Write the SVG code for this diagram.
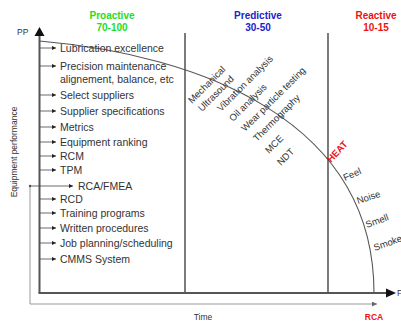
<svg xmlns="http://www.w3.org/2000/svg" width="401" height="323" viewBox="0 0 401 323">
  <defs>
    <style>
      text { font-family: "Liberation Sans", Arial, sans-serif; fill: #333; }
      .head { font-size: 10px; font-weight: bold; text-anchor: middle; }
      .pro { fill: #22dd22; }
      .pred { fill: #2222cc; }
      .react { fill: #ee1111; }
      .item { font-size: 10.5px; }
      .tech { font-size: 9.5px; }
      .sense { font-size: 9.5px; }
      .small { font-size: 8.5px; }
      .axis { stroke: #555; stroke-width: 2; fill: none; }
      .divider { stroke: #444; stroke-width: 1.4; fill: none; }
      .feed { stroke: #444; stroke-width: 0.8; fill: none; }
      .flow { stroke: #999; stroke-width: 1; fill: none; }
      .curve { stroke: #555; stroke-width: 1.1; fill: none; }
    </style>
    <marker id="tip" viewBox="0 0 6 6" refX="6" refY="3" markerWidth="4" markerHeight="4" markerUnits="userSpaceOnUse" orient="auto">
      <path d="M0,0 L6,3 L0,6 Z" fill="#222"/>
    </marker>
    <marker id="tipThin" viewBox="0 0 6 6" refX="6" refY="3" markerWidth="5" markerHeight="5" markerUnits="userSpaceOnUse" orient="auto">
      <path d="M0,0 L6,3 L0,6 Z" fill="#666"/>
    </marker>
  </defs>

  <!-- phase headings -->
  <g id="proactive">
    <text class="head pro" x="112" y="19">Proactive</text>
    <text class="head pro" x="112" y="31">70-100</text>
  </g>
  <g id="predictive">
    <text class="head pred" x="258" y="19">Predictive</text>
    <text class="head pred" x="258" y="31">30-50</text>
  </g>
  <g id="reactive">
    <text class="head react" x="376" y="19">Reactive</text>
    <text class="head react" x="376" y="31">10-15</text>
  </g>

  <!-- axes and phase dividers -->
  <g id="axes">
    <line class="divider" x1="185" y1="33" x2="185" y2="293"/>
    <line class="divider" x1="328" y1="33" x2="328" y2="293"/>
    <line class="axis" x1="39.5" y1="34" x2="39.5" y2="293"/>
    <line class="axis" x1="38.5" y1="293" x2="388" y2="293"/>
    <path d="M39.5,27 L44.5,36 L34.5,36 Z" fill="#111"/>
    <path d="M396,293 L386,288.5 L386,297.5 Z" fill="#111"/>
    <text class="small" x="17" y="35">PP</text>
    <text class="small" x="397" y="296">F</text>
    <text class="small" x="0" y="0" transform="translate(17,152) rotate(-90)" text-anchor="middle">Equipment performance</text>
    <text class="small" x="203" y="320" text-anchor="middle">Time</text>
    <text class="small react" x="374" y="320" text-anchor="middle" font-weight="bold">RCA</text>
  </g>

  <!-- P-F curve -->
  <g id="pf-curve">
    <path class="curve" d="M39.5,41 C200,55 374,120 374,293"/>
  </g>

  <!-- connectors from the performance axis to the proactive tasks -->
  <g id="connectors">
    <line class="feed" x1="40" y1="48" x2="56" y2="48" marker-end="url(#tip)"/>
    <line class="feed" x1="40" y1="66" x2="56" y2="66" marker-end="url(#tip)"/>
    <line class="feed" x1="40" y1="95" x2="56" y2="95" marker-end="url(#tip)"/>
    <line class="feed" x1="40" y1="111" x2="56" y2="111" marker-end="url(#tip)"/>
    <line class="feed" x1="40" y1="127" x2="56" y2="127" marker-end="url(#tip)"/>
    <line class="feed" x1="40" y1="142" x2="56" y2="142" marker-end="url(#tip)"/>
    <line class="feed" x1="40" y1="156" x2="56" y2="156" marker-end="url(#tip)"/>
    <line class="feed" x1="40" y1="170" x2="56" y2="170" marker-end="url(#tip)"/>
    <line class="feed" x1="40" y1="199" x2="56" y2="199" marker-end="url(#tip)"/>
    <line class="feed" x1="40" y1="213" x2="56" y2="213" marker-end="url(#tip)"/>
    <line class="feed" x1="40" y1="228" x2="56" y2="228" marker-end="url(#tip)"/>
    <line class="feed" x1="40" y1="243" x2="56" y2="243" marker-end="url(#tip)"/>
    <line class="feed" x1="40" y1="259" x2="56" y2="259" marker-end="url(#tip)"/>
    <!-- RCA loop back into RCA/FMEA -->
    <polyline class="flow" points="30,186 30,304 377,304" marker-end="url(#tipThin)"/>
    <circle cx="30" cy="186" r="1.2" fill="#555"/>
    <line class="feed" x1="30" y1="186" x2="73" y2="186" marker-end="url(#tip)"/>
  </g>

  <!-- proactive tasks -->
  <g id="task-lubrication"><text class="item" x="60" y="52">Lubrication excellence</text></g>
  <g id="task-precision">
    <text class="item" x="60" y="70">Precision maintenance</text>
    <text class="item" x="60" y="83">alignement, balance, etc</text>
  </g>
  <g id="task-select"><text class="item" x="60" y="99">Select suppliers</text></g>
  <g id="task-specs"><text class="item" x="60" y="115">Supplier specifications</text></g>
  <g id="task-metrics"><text class="item" x="60" y="131">Metrics</text></g>
  <g id="task-ranking"><text class="item" x="60" y="146">Equipment ranking</text></g>
  <g id="task-rcm"><text class="item" x="60" y="160">RCM</text></g>
  <g id="task-tpm"><text class="item" x="60" y="174">TPM</text></g>
  <g id="task-rca"><text class="item" x="78" y="190">RCA/FMEA</text></g>
  <g id="task-rcd"><text class="item" x="60" y="203">RCD</text></g>
  <g id="task-training"><text class="item" x="60" y="217">Training programs</text></g>
  <g id="task-procedures"><text class="item" x="60" y="232">Written procedures</text></g>
  <g id="task-planning"><text class="item" x="60" y="247">Job planning/scheduling</text></g>
  <g id="task-cmms"><text class="item" x="60" y="263">CMMS System</text></g>

  <!-- predictive technologies -->
  <g id="predictive-tech">
    <text class="tech" transform="translate(192,104) rotate(-45)">Mechanical</text>
    <text class="tech" transform="translate(202,112) rotate(-45)">Ultrasound</text>
    <text class="tech" transform="translate(221,112) rotate(-45)">Vibration analysis</text>
    <text class="tech" transform="translate(233,122) rotate(-45)">Oil analysis</text>
    <text class="tech" transform="translate(245,132) rotate(-45)">Wear particle testing</text>
    <text class="tech" transform="translate(257,142) rotate(-45)">Thermography</text>
    <text class="tech" transform="translate(269,154) rotate(-45)">MCE</text>
    <text class="tech" transform="translate(281,166) rotate(-45)">NDT</text>
  </g>

  <!-- reactive symptoms -->
  <g id="symptoms">
    <text class="sense react" font-weight="bold" transform="translate(331,163) rotate(-47)">HEAT</text>
    <text class="sense" transform="translate(345,181) rotate(-24)">Feel</text>
    <text class="sense" transform="translate(358,204) rotate(-18)">Noise</text>
    <text class="sense" transform="translate(367,228) rotate(-20)">Smell</text>
    <text class="sense" transform="translate(375,251) rotate(-20)">Smoke</text>
  </g>
</svg>
